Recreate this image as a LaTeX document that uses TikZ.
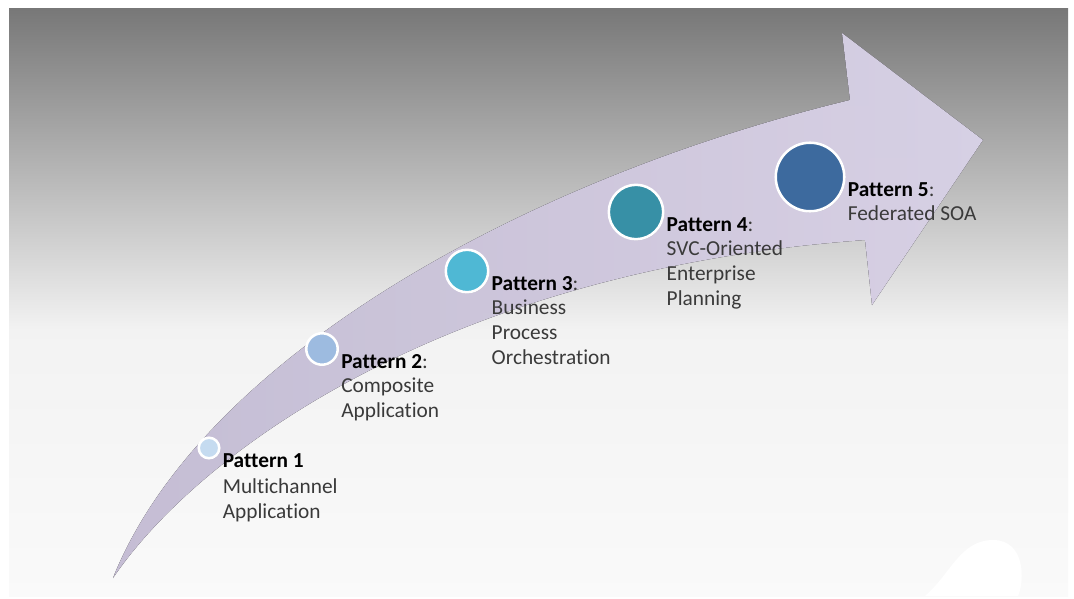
\documentclass[tikz,border=0pt]{standalone}
\usepackage{fontspec}
\setmainfont{Carlito}[Ligatures=NoCommon]
\usetikzlibrary{positioning,shadows}
\definecolor{bodytext}{RGB}{58,58,58}
\definecolor{lavlight}{RGB}{226,219,240}
\definecolor{lavdark}{RGB}{207,199,223}
\definecolor{pone}{RGB}{197,219,240}
\definecolor{ptwo}{RGB}{157,187,224}
\definecolor{pthree}{RGB}{79,184,212}
\definecolor{pfour}{RGB}{55,144,166}
\definecolor{pfive}{RGB}{61,106,158}

\begin{document}
\begin{tikzpicture}[x=0.75pt,y=-0.75pt,
    % define styles
    pat/.style={
        circle,
        draw=white,
        line width=1.9pt,
        inner sep=0pt,
        drop shadow={opacity=0.3,shadow xshift=0.6pt,shadow yshift=-0.9pt}
    },
    txt/.style={
        align=left,
        inner sep=0pt,
        text=bodytext,
        font=\fontsize{16}{18.5}\selectfont
    }
]
\useasboundingbox (0,0) rectangle (1074,599);
% background
\fill[white] (0,0) rectangle (1074,599);
\shade[top color=black!53,middle color=black!25,bottom color=black!5] (9,9) rectangle (1068,330);
\shade[top color=black!5,bottom color=black!2] (9,330) rectangle (1068,596);
\fill[white] (925,596) .. controls (950,575) and (960,540) .. (993,540)
    .. controls (1025,540) and (1025,580) .. (1018,596) -- cycle;

% the arrow
\fill[left color=lavdark,right color=lavlight,opacity=0.95]
    (113,578) .. controls (200,360) and (520,180) .. (850,100)
    -- (842,33) -- (983,140) -- (872,305) -- (865,240)
    .. controls (450,270) and (200,450) .. (113,578) -- cycle;

% pattern circles
\node[pat,fill=pone,minimum size=15.4pt]   (p1) at (209,448) {};
\node[pat,fill=ptwo,minimum size=23.6pt]   (p2) at (322,349) {};
\node[pat,fill=pthree,minimum size=31.8pt] (p3) at (467,271) {};
\node[pat,fill=pfour,minimum size=40.8pt]  (p4) at (636,212) {};
\node[pat,fill=pfive,minimum size=51.4pt]  (p5) at (810,177) {};

% labels
\node[txt,below right=3.75pt and 1.5pt of p1.east] (t1)
    {\textcolor{black}{\textbf{Pattern 1}}\\[1.5pt]Multichannel\\Application};
\node[txt,below right=3.75pt and 1.5pt of p2.east] (t2)
    {\textcolor{black}{\textbf{Pattern 2}}:\\Composite\\Application};
\node[txt,below right=3.75pt and 1.5pt of p3.east] (t3)
    {\textcolor{black}{\textbf{Pattern 3}}:\\Business\\Process\\Orchestration};
\node[txt,below right=3.75pt and 1.5pt of p4.east] (t4)
    {\textcolor{black}{\textbf{Pattern 4}}:\\SVC-Oriented\\Enterprise\\Planning};
\node[txt,below right=3.75pt and 1.5pt of p5.east] (t5)
    {\textcolor{black}{\textbf{Pattern 5}}:\\Federated SOA};
\end{tikzpicture}
\end{document}
